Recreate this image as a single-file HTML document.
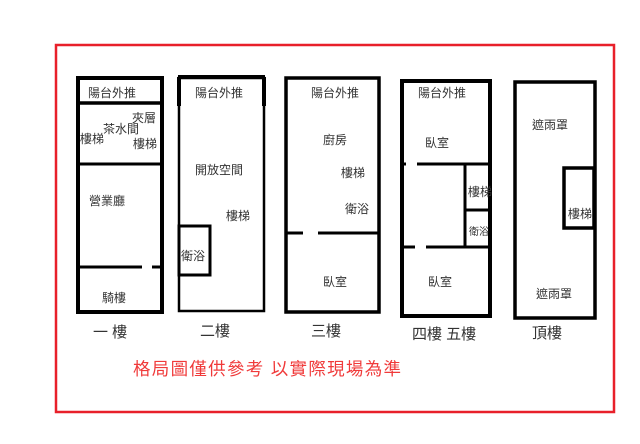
<!DOCTYPE html>
<html><head><meta charset="utf-8"><style>
html,body{margin:0;padding:0;background:#fff;width:640px;height:444px;overflow:hidden}
svg{display:block}
text{font-family:"Liberation Sans","Noto Sans CJK TC",sans-serif;fill:#333}
</style></head><body>
<svg width="640" height="444" viewBox="0 0 640 444">
<rect x="56" y="45" width="558" height="367" fill="none" stroke="#e8202a" stroke-width="2.5"/>
<g fill="none" stroke="#000">
<!-- B1 -->
<rect x="78" y="78" width="84" height="234" stroke-width="4"/>
<line x1="78" y1="103" x2="162" y2="103" stroke-width="3.5"/>
<line x1="78" y1="164" x2="162" y2="164" stroke-width="3"/>
<line x1="78" y1="267" x2="142" y2="267" stroke-width="3"/>
<line x1="152" y1="267" x2="162" y2="267" stroke-width="3"/>
<!-- B2 -->
<line x1="178" y1="77" x2="265" y2="77" stroke-width="4"/>
<line x1="179" y1="77" x2="179" y2="106" stroke-width="4"/>
<line x1="264" y1="77" x2="264" y2="106" stroke-width="4"/>
<rect x="179" y="78" width="85" height="233" stroke-width="2.5"/>
<rect x="179" y="226" width="31" height="49" stroke-width="3"/>
<!-- B3 -->
<rect x="286" y="78" width="93" height="234" stroke-width="3.5"/>
<line x1="286" y1="233" x2="303" y2="233" stroke-width="3"/>
<line x1="318" y1="233" x2="379" y2="233" stroke-width="3"/>
<!-- B4 -->
<rect x="402" y="81" width="88" height="235" stroke-width="4"/>
<line x1="402" y1="164" x2="406" y2="164" stroke-width="3"/>
<line x1="417" y1="164" x2="490" y2="164" stroke-width="3"/>
<line x1="465" y1="164" x2="465" y2="246" stroke-width="3"/>
<line x1="465" y1="210" x2="490" y2="210" stroke-width="3"/>
<line x1="402" y1="247" x2="415" y2="247" stroke-width="3"/>
<line x1="426" y1="247" x2="490" y2="247" stroke-width="3"/>
<!-- B5 -->
<rect x="515" y="82" width="80" height="236" stroke-width="3.5"/>
<rect x="564" y="168" width="30" height="60" stroke-width="3.5"/>
</g>
<g font-size="12">
<text x="88" y="97">陽台外推</text>
<text x="132" y="122">夾層</text>
<text x="103" y="133">茶水間</text>
<text x="80" y="143">樓梯</text>
<text x="133" y="148">樓梯</text>
<text x="89" y="205">營業廳</text>
<text x="102" y="302">騎樓</text>
<text x="195" y="97">陽台外推</text>
<text x="195" y="174">開放空間</text>
<text x="226" y="220">樓梯</text>
<text x="181" y="260">衛浴</text>
<text x="311" y="97">陽台外推</text>
<text x="323" y="144">廚房</text>
<text x="341" y="177">樓梯</text>
<text x="345" y="213">衛浴</text>
<text x="323" y="286">臥室</text>
<text x="418" y="97">陽台外推</text>
<text x="425" y="147">臥室</text>
<text x="468" y="196">樓梯</text>
<text x="469" y="235" font-size="10">衛浴</text>
<text x="428" y="286">臥室</text>
<text x="532" y="129">遮雨罩</text>
<text x="568" y="218">樓梯</text>
<text x="536" y="298">遮雨罩</text>
</g>
<g font-size="15">
<text x="93" y="337">一 樓</text>
<text x="200" y="336">二樓</text>
<text x="311" y="336">三樓</text>
<text x="412" y="339">四樓 五樓</text>
<text x="532" y="338">頂樓</text>
</g>
<text x="133" y="375" font-size="17.5" style="fill:#f03a3a" textLength="268">格局圖僅供參考 以實際現場為準</text>
</svg>
</body></html>
